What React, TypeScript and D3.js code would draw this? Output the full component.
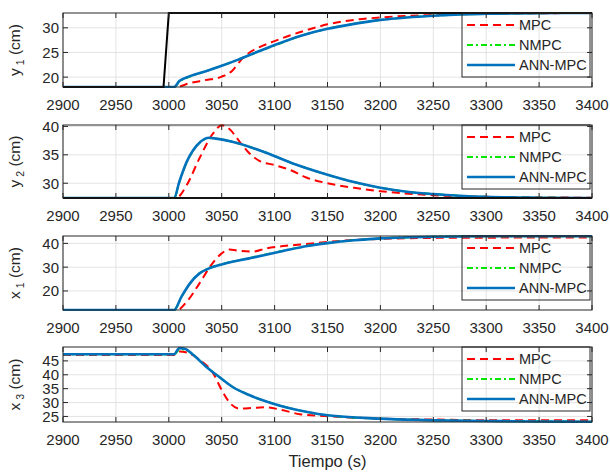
import React from "react";
import * as d3 from "d3";

type Pt = [number, number];

const xTicks = [2900, 2950, 3000, 3050, 3100, 3150, 3200, 3250, 3300, 3350, 3400];
const legendNames = ["MPC", "NMPC", "ANN-MPC"];

// panel 1: y1
const y1Ref: Pt[] = [[2900, 18], [2995, 18], [3000, 33], [3400, 33]];
const y1Mpc: Pt[] = [[2900, 18], [3008, 18], [3010, 18.1], [3020, 18.8], [3035, 19.4], [3050, 20.1], [3060, 21.3], [3068, 23.4], [3075, 24.8], [3085, 26.0], [3100, 27.3], [3115, 28.5], [3130, 29.5], [3150, 30.7], [3175, 31.6], [3200, 32.1], [3250, 32.6], [3300, 32.85], [3400, 33]];
const y1Nmpc: Pt[] = [[2900, 18], [3005, 18], [3010, 19.1], [3020, 20.1], [3035, 21.2], [3050, 22.3], [3065, 23.5], [3080, 24.8], [3100, 26.4], [3125, 28.4], [3150, 29.8], [3175, 30.8], [3200, 31.6], [3225, 32.1], [3250, 32.45], [3275, 32.7], [3300, 32.85], [3350, 32.97], [3400, 33]];
const y1Ann: Pt[] = [[2900, 18], [3005, 18], [3010, 19.2], [3020, 20.2], [3035, 21.2], [3050, 22.3], [3065, 23.5], [3080, 24.8], [3100, 26.5], [3125, 28.4], [3150, 29.8], [3175, 30.8], [3200, 31.6], [3225, 32.1], [3250, 32.45], [3275, 32.7], [3300, 32.85], [3350, 32.97], [3400, 33]];

// panel 2: y2
const y2Ref: Pt[] = [[2900, 27.4], [3400, 27.4]];
const y2Mpc: Pt[] = [[2900, 27.4], [3007, 27.4], [3017, 29.7], [3029, 34.4], [3042, 38.8], [3050, 40.2], [3057, 39.6], [3067, 37.3], [3075, 35.5], [3086, 33.9], [3100, 33.2], [3115, 32.3], [3130, 31.0], [3150, 30.0], [3175, 29.2], [3200, 28.6], [3250, 27.9], [3300, 27.6], [3400, 27.45]];
const y2Nmpc: Pt[] = [[2900, 27.4], [3005, 27.4], [3010, 30.2], [3017, 33.7], [3023, 35.7], [3030, 37.3], [3038, 37.95], [3045, 37.85], [3060, 37.3], [3090, 35.5], [3120, 33.3], [3150, 31.5], [3175, 30.2], [3200, 29.2], [3225, 28.5], [3250, 28.1], [3275, 27.8], [3300, 27.6], [3350, 27.45], [3400, 27.4]];
const y2Ann: Pt[] = [[2900, 27.4], [3005, 27.4], [3010, 30.3], [3017, 33.8], [3023, 35.8], [3030, 37.3], [3038, 38.0], [3045, 37.85], [3060, 37.3], [3090, 35.5], [3120, 33.3], [3150, 31.5], [3175, 30.2], [3200, 29.2], [3225, 28.5], [3250, 28.1], [3275, 27.8], [3300, 27.6], [3350, 27.45], [3400, 27.4]];

// panel 3: x1
const x1Mpc: Pt[] = [[2900, 12], [3008, 12], [3017, 15.5], [3029, 23.2], [3039, 30.2], [3050, 35.8], [3057, 37.4], [3067, 36.9], [3080, 36.6], [3092, 37.9], [3111, 39.0], [3130, 39.7], [3150, 40.6], [3200, 41.9], [3250, 42.3], [3300, 42.4], [3400, 42.5]];
const x1Nmpc: Pt[] = [[2900, 12], [3005, 12], [3012, 17.5], [3020, 23.1], [3029, 27.4], [3036, 29.2], [3048, 31.0], [3076, 33.8], [3108, 36.9], [3131, 39.0], [3150, 40.2], [3175, 41.3], [3200, 42.1], [3250, 42.8], [3300, 43.0], [3400, 43.0]];
const x1Ann: Pt[] = [[2900, 12], [3005, 12], [3012, 17.6], [3020, 23.2], [3029, 27.4], [3036, 29.1], [3048, 30.9], [3076, 33.7], [3108, 36.8], [3131, 38.9], [3150, 40.1], [3175, 41.3], [3200, 42.1], [3250, 42.8], [3300, 43.0], [3400, 43.0]];

// panel 4: x3
const x3Mpc: Pt[] = [[2900, 47.1], [3004, 47.1], [3010, 48.4], [3017, 48.0], [3029, 45.4], [3042, 40.5], [3050, 34.5], [3057, 30.2], [3067, 27.8], [3080, 28.1], [3092, 28.3], [3108, 27.2], [3124, 25.8], [3150, 25.1], [3200, 24.2], [3250, 23.9], [3300, 23.6], [3400, 23.6]];
const x3Nmpc: Pt[] = [[2900, 47.4], [3005, 47.4], [3010, 49.0], [3015, 49.1], [3023, 47.2], [3035, 43.0], [3048, 39.1], [3060, 35.7], [3076, 32.7], [3098, 29.7], [3131, 26.6], [3150, 25.4], [3200, 24.2], [3250, 23.6], [3300, 23.35], [3350, 23.2], [3400, 23.1]];
const x3Ann: Pt[] = [[2900, 47.4], [3005, 47.4], [3010, 49.6], [3015, 49.4], [3023, 47.2], [3035, 43.0], [3048, 39.1], [3060, 35.7], [3076, 32.7], [3098, 29.7], [3131, 26.6], [3150, 25.4], [3200, 24.2], [3250, 23.6], [3300, 23.35], [3350, 23.2], [3400, 23.1]];

const panels = [
  { top: 13, bottom: 87, domain: [18, 33], ticks: [20, 25, 30], v: "y", sub: "1", ref: y1Ref, mpc: y1Mpc, nmpc: y1Nmpc, ann: y1Ann },
  { top: 125, bottom: 198, domain: [27.4, 40.25], ticks: [30, 35, 40], v: "y", sub: "2", ref: y2Ref, mpc: y2Mpc, nmpc: y2Nmpc, ann: y2Ann },
  { top: 236, bottom: 310, domain: [12, 43.1], ticks: [20, 30, 40], v: "x", sub: "1", ref: null, mpc: x1Mpc, nmpc: x1Nmpc, ann: x1Ann },
  { top: 347, bottom: 422, domain: [23, 50], ticks: [25, 30, 35, 40, 45], v: "x", sub: "3", ref: null, mpc: x3Mpc, nmpc: x3Nmpc, ann: x3Ann },
];

const FONT = "'Liberation Sans', Arial, Helvetica, sans-serif";
const INK = "#262626";
const LEFT = 63;
const RIGHT = 592;

const styles = {
  mpc: { stroke: "#ff0000", width: 2, dash: "8,5" },
  nmpc: { stroke: "#00e600", width: 2, dash: "6,3,2,3" },
  ann: { stroke: "#0072BD", width: 2.6, dash: undefined as string | undefined },
};

export default function App() {
  const x = d3.scaleLinear().domain([2900, 3400]).range([LEFT, RIGHT]);

  return (
    <svg width={610} height={472} style={{ position: "absolute", left: 0, top: 0, background: "#fff" }} fontFamily={FONT}>
      {panels.map((p, i) => {
        const y = d3.scaleLinear().domain(p.domain).range([p.bottom, p.top]);
        const line = d3.line<Pt>().x(d => x(d[0])).y(d => y(d[1])).curve(d3.curveMonotoneX);
        const refLine = d3.line<Pt>().x(d => x(d[0])).y(d => y(d[1]));
        const clipId = `clip-${i}`;
        const lx = 462;
        const legH = 64;
        const mid = (p.top + p.bottom) / 2;
        const series: [keyof typeof styles, Pt[]][] = [["mpc", p.mpc], ["nmpc", p.nmpc], ["ann", p.ann]];
        return (
          <g key={i}>
            <defs>
              <clipPath id={clipId}>
                <rect x={LEFT} y={p.top - 1} width={RIGHT - LEFT} height={p.bottom - p.top + 2} />
              </clipPath>
            </defs>
            {/* grid */}
            {xTicks.map(t => (
              <line key={"gx" + t} x1={x(t)} x2={x(t)} y1={p.top} y2={p.bottom} stroke="#dcdcdc" strokeWidth={0.8} />
            ))}
            {p.ticks.map(t => (
              <line key={"gy" + t} x1={LEFT} x2={RIGHT} y1={y(t)} y2={y(t)} stroke="#dcdcdc" strokeWidth={0.8} />
            ))}
            {/* data */}
            <g clipPath={`url(#${clipId})`}>
              {series.map(([k, data]) => (
                <path key={k} d={line(data) || ""} fill="none" stroke={styles[k].stroke}
                  strokeWidth={styles[k].width} strokeDasharray={styles[k].dash} />
              ))}
              {p.ref && <path d={refLine(p.ref) || ""} fill="none" stroke="#000" strokeWidth={2} />}
            </g>
            {/* legend (transparent box, grid shows through) */}
            <rect x={lx} y={p.top} width={RIGHT - 2 - lx} height={legH} fill="none" stroke={INK} strokeWidth={1} />
            {series.map(([k], j) => {
              const ly = p.top + 12 + j * 20;
              return (
                <g key={"lg" + k}>
                  <line x1={lx + 5} x2={lx + 53} y1={ly} y2={ly} stroke={styles[k].stroke}
                    strokeWidth={styles[k].width} strokeDasharray={styles[k].dash} />
                  <text x={lx + 57} y={ly + 5} fontSize={14.5} fill={INK}>{legendNames[j]}</text>
                </g>
              );
            })}
            {/* box + ticks */}
            <rect x={LEFT} y={p.top} width={RIGHT - LEFT} height={p.bottom - p.top} fill="none" stroke={INK} strokeWidth={1} />
            {xTicks.map(t => (
              <g key={"tx" + t}>
                <line x1={x(t)} x2={x(t)} y1={p.bottom} y2={p.bottom - 5} stroke={INK} />
                <line x1={x(t)} x2={x(t)} y1={p.top} y2={p.top + 5} stroke={INK} />
                <text x={x(t)} y={p.bottom + 22.5} fontSize={15} fill={INK} textAnchor="middle">{t}</text>
              </g>
            ))}
            {p.ticks.map(t => (
              <g key={"ty" + t}>
                <line x1={LEFT} x2={LEFT + 5} y1={y(t)} y2={y(t)} stroke={INK} />
                <line x1={RIGHT} x2={RIGHT - 5} y1={y(t)} y2={y(t)} stroke={INK} />
                <text x={LEFT - 4} y={y(t)} dy="0.36em" fontSize={15} fill={INK} textAnchor="end">{t}</text>
              </g>
            ))}
            {/* y label */}
            <text transform={`translate(20,${mid}) rotate(-90)`} textAnchor="middle" fontSize={15.5} fill={INK}>
              {p.v}
              <tspan fontSize={10.5} dx={3} dy={4}>{p.sub}</tspan>
              <tspan dy={-4}> (cm)</tspan>
            </text>
          </g>
        );
      })}
      <text x={(LEFT + RIGHT) / 2} y={467} textAnchor="middle" fontSize={16.5} fill={INK}>Tiempo (s)</text>
    </svg>
  );
}
